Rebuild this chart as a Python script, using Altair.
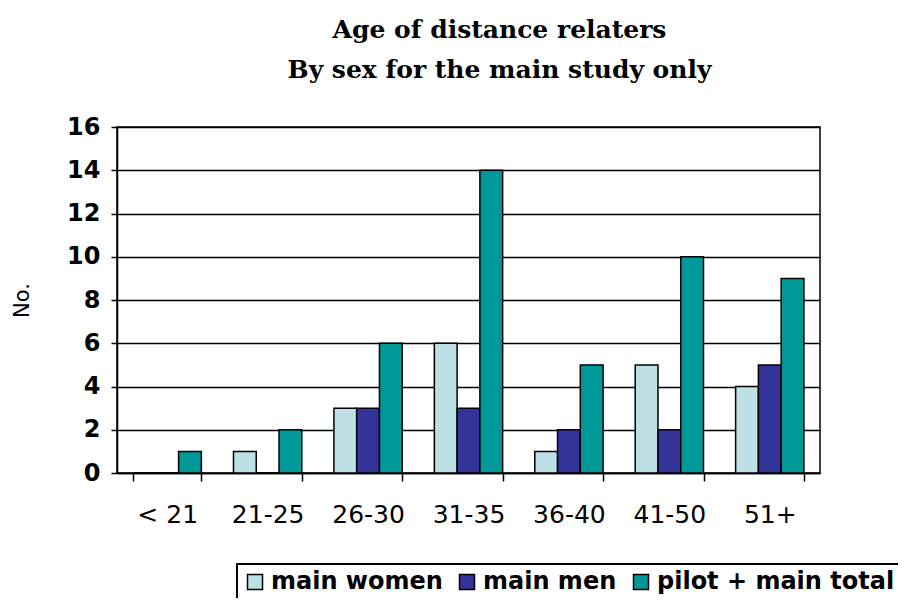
import altair as alt
import pandas as pd

categories = ["< 21", "21-25", "26-30", "31-35", "36-40", "41-50", "51+"]
series = ["main women", "main men", "pilot + main total"]
main_women = [0, 1, 3, 6, 1, 5, 4]
main_men = [0, 0, 3, 3, 2, 2, 5]
pilot_main_total = [1, 2, 6, 14, 5, 10, 9]
colors = ["#BCE0E5", "#333399", "#009999"]

rows = []
for s, vals in zip(series, [main_women, main_men, pilot_main_total]):
    for c, v in zip(categories, vals):
        rows.append({"age": c, "series": s, "value": v})
df = pd.DataFrame(rows)

chart = alt.Chart(df).mark_bar(stroke="black", strokeWidth=1.5).encode(
    x=alt.X("age:N", sort=categories,
            scale=alt.Scale(paddingInner=0.32, paddingOuter=0.16),
            axis=alt.Axis(title=None, labelAngle=0, tickBand="extent",
                          labelFont="DejaVu Sans", labelFontSize=25,
                          labelColor="black", labelPadding=21, tickSize=8,
                          tickColor="black", tickWidth=1.5,
                          domainColor="black", domainWidth=1.5)),
    xOffset=alt.XOffset("series:N", sort=series),
    y=alt.Y("value:Q", scale=alt.Scale(domain=[0, 16]),
            axis=alt.Axis(title="No.", values=list(range(0, 17, 2)),
                          labelFont="DejaVu Sans", labelFontSize=24,
                          labelFontWeight="bold", labelColor="black",
                          labelPadding=11, tickSize=6, tickColor="black",
                          tickWidth=1.5, domainColor="black", domainWidth=1.5,
                          grid=True, gridColor="black", gridWidth=1.5,
                          titleFont="DejaVu Sans", titleFontSize=21,
                          titleFontWeight="normal", titleColor="black",
                          titlePadding=34)),
    color=alt.Color("series:N", sort=series,
                    scale=alt.Scale(domain=series, range=colors),
                    legend=alt.Legend(title=None, orient="none",
                                      direction="horizontal",
                                      legendX=120, legendY=437,
                                      symbolType="square", symbolSize=225,
                                      symbolStrokeColor="black",
                                      symbolStrokeWidth=1.5,
                                      symbolOpacity=1,
                                      labelFont="DejaVu Sans",
                                      labelFontWeight="bold",
                                      labelFontSize=24, labelColor="black",
                                      labelLimit=600,
                                      labelOffset=4, columnPadding=12,
                                      padding=6, strokeColor="black",
                                      fillColor="white")),
).properties(
    width=703,
    height=346,
    title=alt.Title(["Age of distance relaters", "By sex for the main study only"],
                    font="DejaVu Serif", fontSize=25, fontWeight="bold",
                    color="black", anchor="middle", dx=31, offset=32,
                    lineHeight=40),
    autosize=alt.AutoSizeParams(type="none"),
    padding={"left": 109, "top": 119, "right": 78, "bottom": 125},
).configure_view(stroke="black", strokeWidth=1.5).configure_legend(strokeWidth=2)

chart.save("out.html", embed_options={"renderer": "svg", "actions": False})
